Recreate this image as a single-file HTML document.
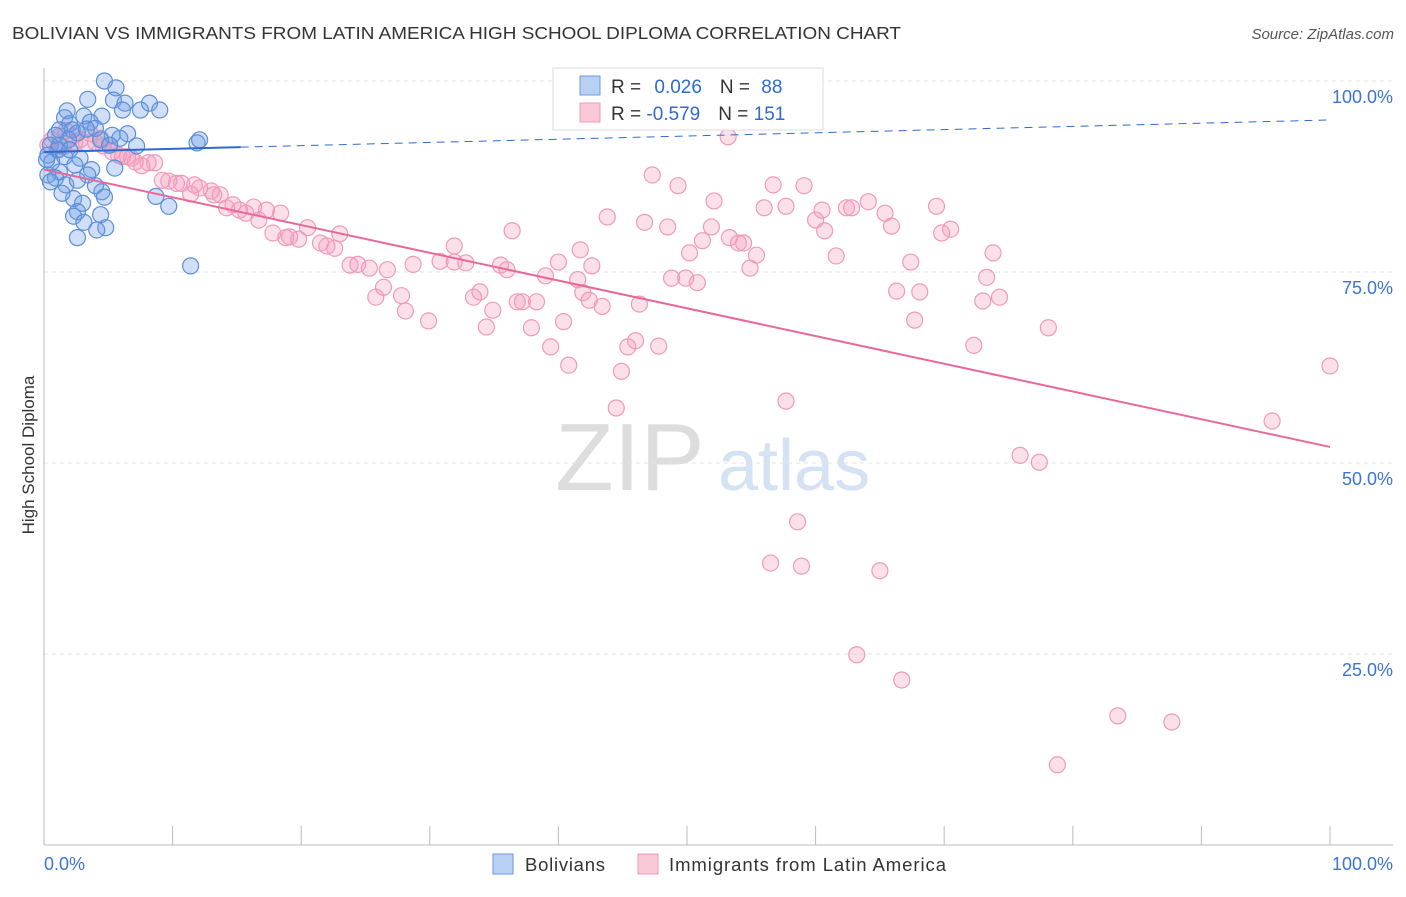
<!DOCTYPE html>
<html><head><meta charset="utf-8"><style>
body{margin:0;background:#fff;font-family:"Liberation Sans",sans-serif}
svg text{font-family:"Liberation Sans",sans-serif}
</style></head><body>
<svg id="chart" width="1406" height="892">
<text x="12" y="39" font-size="17.5" fill="#333" textLength="889" lengthAdjust="spacingAndGlyphs">BOLIVIAN VS IMMIGRANTS FROM LATIN AMERICA HIGH SCHOOL DIPLOMA CORRELATION CHART</text>
<text x="1394" y="39" font-size="15" fill="#555" font-style="italic" text-anchor="end">Source: ZipAtlas.com</text>
<text transform="translate(34,455) rotate(-90)" font-size="17" fill="#333" text-anchor="middle">High School Diploma</text>
<g>
<text x="555" y="490" font-size="96" fill="#ddd" font-family="Liberation Serif">ZIP</text>
<text x="718" y="490" font-size="72" fill="#d4e2f4">atlas</text>
</g>
<g id="grid"></g><g id="axes"></g><g id="pts"></g><g id="lines"></g>
<g>
<rect x="553" y="68" width="270" height="62" fill="#fff" stroke="#ddd"/>
<rect x="580" y="76" width="20" height="19" fill="#b8d0f4" stroke="#6c9be0"/>
<rect x="580" y="103" width="20" height="19" fill="#fbc8d8" stroke="#f09ab8"/>
<text x="611" y="93" font-size="19" fill="#333">R = <tspan fill="#2f6ad0" dx="8">0.026</tspan><tspan dx="18">N = </tspan><tspan fill="#2f6ad0" dx="6">88</tspan></text>
<text x="611" y="120" font-size="19" fill="#333">R = <tspan fill="#2f6ad0">-0.579</tspan><tspan dx="18">N = </tspan><tspan fill="#2f6ad0">151</tspan></text>
</g>
<g>
<rect x="493" y="854" width="20" height="20" fill="#b8d0f4" stroke="#6c9be0"/>
<text x="525" y="871" font-size="18.5" fill="#333" textLength="80">Bolivians</text>
<rect x="638" y="854" width="20" height="20" fill="#fbc8d8" stroke="#f09ab8"/>
<text x="669" y="871" font-size="18.5" fill="#333" textLength="277">Immigrants from Latin America</text>
</g>
</svg>
<script>
const yTicks=[25,50,75,100];
const yTickLabels=["25.0%","50.0%","75.0%","100.0%"];
const xTickVals=[0,10,20,30,40,50,60,70,80,90,100];
const xEndLabels=["0.0%","100.0%"];
const bluX=[4.7,5.6,3.4,5.4,8.2,9.0,6.3,7.5,6.1,1.8,1.6,3.1,4.5,2.0,3.6,4.0,2.2,6.5,5.3,4.4,7.2,1.2,0.9,2.6,1.9,0.5,1.1,0.3,1.6,2.8,0.6,2.4,3.7,5.5,1.2,0.3,0.9,3.4,0.5,1.7,4.0,2.6,4.5,4.7,2.3,3.0,1.4,2.6,2.3,4.4,3.1,4.8,4.1,2.6,8.7,9.7,11.9,12.1,11.4,5.9,3.3,1.2,0.2,2.0,5.1];
const bluY=[100,99.1,97.6,97.5,97.1,96.2,97.1,96.2,96.2,96.1,95.2,95.4,95.4,94.4,94.6,93.8,93.6,93.1,92.9,92.3,91.5,93.6,92.9,93.2,92.3,91.6,91.0,90.3,90.1,89.9,89.4,89.0,88.4,88.6,88.1,87.7,87.3,87.7,86.8,86.4,86.3,87.0,85.5,84.8,84.6,84.0,85.3,82.9,82.3,82.5,81.5,80.8,80.5,79.5,84.9,83.6,91.9,92.3,75.8,92.5,93.7,91.6,89.7,91.0,91.6];
const pnkX=[53.2,47.3,49.3,52.1,56.7,59.1,56.0,57.7,60.5,62.4,62.8,64.1,65.4,65.9,69.4,70.5,69.8,73.8,78.1,100,95.5,75.9,77.4,58.6,56.5,58.9,65.0,63.2,66.7,83.5,87.7,78.8,57.7,44.5,44.9,45.4,47.8,46.0,40.8,39.4,40.4,37.9,34.4,29.9,28.1,25.8,26.4,27.8,28.7,30.8,31.9,32.8,33.4,33.9,34.9,35.5,36.0,36.8,37.2,38.3,39.0,40.0,41.5,41.9,42.4,43.4,42.6,46.3,48.8,49.9,50.8,50.2,51.2,51.9,53.3,54.0,54.4,54.9,55.4,61.6,60.0,60.7,66.3,68.1,67.7,67.4,72.3,73.3,73.0,74.3,36.4,31.9,43.8,46.7,48.5,41.7,23.8,24.4,25.3,26.7,23.0,22.6,22.0,21.5,20.5,19.8,19.1,18.8,17.8,18.4,17.3,16.7,16.3,15.2,15.7,14.7,14.2,13.7,13.0,13.2,12.1,11.7,11.4,10.7,10.3,9.7,9.2,8.6,8.1,7.6,7.1,6.5,5.8,5.3,4.6,4.0,3.3,2.8,2.3,1.7,1.2,0.6,0.3,1.0,1.5,2.4,3.6,4.4,5.1,6.1,6.8];
const pnkY=[92.7,87.7,86.3,84.3,86.4,86.3,83.4,83.6,83.1,83.4,83.4,84.2,82.7,81.0,83.6,80.6,80.1,77.5,67.7,62.7,55.5,51.0,50.1,42.3,36.9,36.5,35.9,24.9,21.6,16.9,16.1,10.5,58.1,57.2,62.0,65.2,65.3,66.0,62.8,65.2,68.5,67.7,67.8,68.6,69.9,71.7,73.0,71.9,76.0,76.4,76.3,76.2,71.7,72.4,70.0,75.9,75.3,71.1,71.1,71.1,74.5,76.3,74.0,72.3,71.3,70.5,75.8,70.8,74.2,74.2,73.6,77.5,79.1,80.9,79.5,78.8,78.8,75.5,77.2,77.1,81.8,80.4,72.5,72.4,68.7,76.3,65.4,74.3,71.2,71.7,80.4,78.4,82.2,81.5,80.9,77.9,75.9,76.0,75.5,75.3,80.0,78.1,78.4,78.8,80.8,79.3,79.6,79.5,80.1,82.7,83.1,81.8,83.5,83.1,82.7,83.8,83.4,85.1,85.6,85.1,86.0,86.4,85.2,86.6,86.6,86.9,87.0,89.3,89.3,88.9,89.4,90.1,90.3,90.7,91.5,92.0,91.9,92.3,92.8,93.5,92.8,92.3,91.6,91.0,91.4,92.0,93.1,92.5,91.6,90.1,89.9];
const bluTrend=[90.7,94.9];
const bluSolidEnd=15.3;
const pnkTrend=[88.4,52.1];

const NS="http://www.w3.org/2000/svg";
const X=v=>44+v*12.86, Y=v=>845-v*7.64;
function mk(p,t,a){const e=document.createElementNS(NS,t);for(const k in a)e.setAttribute(k,a[k]);p.appendChild(e);return e;}
const grid=document.getElementById('grid'),axes=document.getElementById('axes'),pts=document.getElementById('pts'),lines=document.getElementById('lines');
yTicks.forEach((v,i)=>{
 const g=mk(grid,'line',{x1:44,x2:1393,y1:Y(v),y2:Y(v),stroke:'#e3e3e3','stroke-dasharray':'4,4'});
 
 
 const t=mk(axes,'text',{x:1393,y:Y(v)+22,'font-size':18,fill:'#3b74d4','text-anchor':'end'});
 t.textContent=yTickLabels[i];
 
 
});
const ax=mk(axes,'line',{x1:44,x2:1393,y1:845,y2:845,stroke:'#bbb'});


const ay=mk(axes,'line',{x1:44,x2:44,y1:68,y2:845,stroke:'#bbb'});


xTickVals.forEach(v=>{
 const l=mk(axes,'line',{x1:X(v),x2:X(v),y1:826,y2:845,stroke:'#bbb'});
 
 
});
const xl0=mk(axes,'text',{x:44,y:870,'font-size':18,fill:'#3b74d4'});xl0.textContent=xEndLabels[0];


const xl1=mk(axes,'text',{x:1393,y:870,'font-size':18,fill:'#3b74d4','text-anchor':'end'});xl1.textContent=xEndLabels[1];


pnkX.forEach((v,i)=>{
 const c=mk(pts,'circle',{cx:X(v),cy:Y(pnkY[i]),r:8,fill:'rgba(244,160,190,0.32)',stroke:'#f09ab8','stroke-width':1.2});
 
 
});
bluX.forEach((v,i)=>{
 const c=mk(pts,'circle',{cx:X(v),cy:Y(bluY[i]),r:8,fill:'rgba(110,155,230,0.32)',stroke:'#5b8fd9','stroke-width':1.2});
 
 
});
const bt=v=>bluTrend[0]+(bluTrend[1]-bluTrend[0])*v/100;
const b1=mk(lines,'line',{x1:X(0),y1:Y(bt(0)),x2:X(bluSolidEnd),y2:Y(bt(bluSolidEnd)),stroke:'#2f6ad0','stroke-width':2});


const b2=mk(lines,'line',{x1:X(bluSolidEnd),y1:Y(bt(bluSolidEnd)),x2:X(100),y2:Y(bt(100)),stroke:'#2f6ad0','stroke-width':1,'stroke-dasharray':'8,6'});


const p1=mk(lines,'line',{x1:X(0),y1:Y(pnkTrend[0]),x2:X(100),y2:Y(pnkTrend[1]),stroke:'#e8689a','stroke-width':2});


</script>
</body></html>
